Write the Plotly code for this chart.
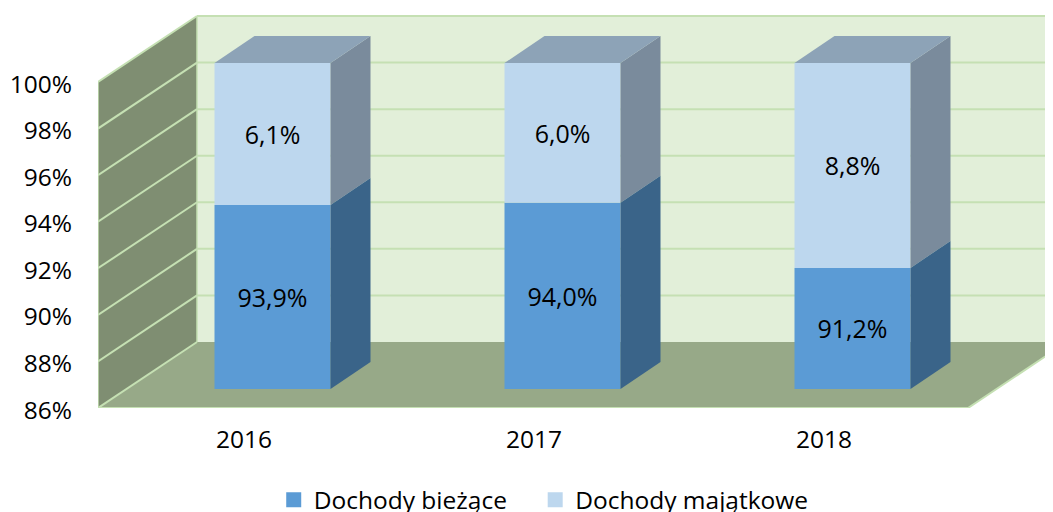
import plotly.graph_objects as go

years = ["2016", "2017", "2018"]
dochody_biezace = [93.9, 94.0, 91.2]
dochody_majatkowe = [6.1, 6.0, 8.8]
y_ticks = [86, 88, 90, 92, 94, 96, 98, 100]
y_labels = ["86%", "88%", "90%", "92%", "94%", "96%", "98%", "100%"]

FONT = "Open Sans"
FS_AXIS, FS_LABEL, FS_LEGEND = 24.5, 25, 24.5
PX_X, PX_Y = 290.0, 326 / 14.0     # pixels per axis unit
W, H = 1045, 504                   # page adds an 8 px body margin
L, B = 90, 104
AX0, AY0 = -0.5, 86.0
XR = [AX0, AX0 + (W - L) / PX_X]
YR = [AY0, AY0 + (H - B) / PX_Y]
WDX, WDY = 99 / PX_X, 66 / PX_Y    # depth of the room
SX, SY = 29.5 / PX_X, 19 / PX_Y    # bars' plane offset
BW = 116 / PX_X
BDX, BDY = 40 / PX_X, 27 / PX_Y    # bars' depth
XEND = len(years) - 0.5

C_WALL, C_BACK, C_FLOOR, C_GRID = "#7F8E72", "#E2EFD9", "#97A988", "#C5E0B3"
C_BLUE, C_BLUE_S = "#5B9BD5", "#3A6489"
C_LIGHT, C_LIGHT_S, C_LIGHT_T = "#BDD7EE", "#7A8B9C", "#8DA3B7"

fig = go.Figure()

def poly(xs, ys, color, xa="x", ya="y"):
    fig.add_trace(go.Scatter(x=xs, y=ys, mode="lines", fill="toself", fillcolor=color,
                             line=dict(width=0, color=color), xaxis=xa, yaxis=ya,
                             hoverinfo="skip", showlegend=False))

def line(xs, ys, color=C_GRID, w=2):
    fig.add_trace(go.Scatter(x=xs, y=ys, mode="lines", line=dict(color=color, width=w),
                             hoverinfo="skip", showlegend=False))

xl, xb, ymin, ymax = AX0, AX0 + WDX, y_ticks[0], y_ticks[-1]
# room
poly([xb, XEND + WDX, XEND + WDX, xb], [ymin + WDY, ymin + WDY, ymax + WDY, ymax + WDY], C_BACK)
poly([xl, xb, xb, xl], [ymin, ymin + WDY, ymax + WDY, ymax], C_WALL)
poly([xl, XEND, XEND + WDX, xb], [ymin, ymin, ymin + WDY, ymin + WDY], C_FLOOR)
for t in y_ticks:
    if t > ymin:
        line([xb, XEND + WDX], [t + WDY, t + WDY])
    line([xl, xb], [t, t + WDY])
line([xl, xl], [ymin, ymax], w=1.5)
line([xb, xb], [ymin + WDY, ymax + WDY], w=1.5)
line([xl, XEND, XEND + WDX], [ymin, ymin, ymin + WDY])

# bars (front plane = overlaid axes, shifted into the room)
pos = list(range(len(years)))
fmt = lambda v: f"{v:.1f}%".replace(".", ",")
for i in pos:
    xr = i + BW / 2
    xf = i - BW / 2
    v1 = dochody_biezace[i]
    top = v1 + dochody_majatkowe[i]
    poly([xr, xr + BDX, xr + BDX, xr], [v1, v1 + BDY, top + BDY, top], C_LIGHT_S, "x2", "y2")
    poly([xr, xr + BDX, xr + BDX, xr], [ymin, ymin + BDY, v1 + BDY, v1], C_BLUE_S, "x2", "y2")
    poly([xf, xr, xr + BDX, xf + BDX], [top, top, top + BDY, top + BDY], C_LIGHT_T, "x2", "y2")

tf = dict(family=FONT, size=FS_LABEL, color="#000000")
fig.add_trace(go.Bar(x=pos, y=[v - ymin for v in dochody_biezace], base=[ymin] * len(pos),
                     width=BW, name="Dochody bieżące", marker=dict(color=C_BLUE, line=dict(width=0)),
                     text=[fmt(v) for v in dochody_biezace], textposition="inside",
                     insidetextanchor="middle", textangle=0, insidetextfont=tf,
                     xaxis="x2", yaxis="y2", hoverinfo="skip", showlegend=False))
fig.add_trace(go.Bar(x=pos, y=dochody_majatkowe, base=dochody_biezace,
                     width=BW, name="Dochody majątkowe", marker=dict(color=C_LIGHT, line=dict(width=0)),
                     text=[fmt(v) for v in dochody_majatkowe], textposition="inside",
                     insidetextanchor="middle", textangle=0, insidetextfont=tf,
                     xaxis="x2", yaxis="y2", hoverinfo="skip", showlegend=False))
for nm, c, lg in [("Dochody bieżące", C_BLUE, "legend"), ("Dochody majątkowe", C_LIGHT, "legend2")]:
    fig.add_trace(go.Scatter(x=[None], y=[None], mode="markers", name=nm, legend=lg,
                             marker=dict(symbol="square", size=15, color=c)))

lg_font = dict(family=FONT, size=FS_LEGEND, color="#000000")
fig.update_layout(
    width=W, height=H, margin=dict(l=L, r=0, t=0, b=B, autoexpand=False),
    paper_bgcolor="white", plot_bgcolor="white", barmode="overlay",
    font=dict(family=FONT, size=FS_AXIS, color="#000000"),
    xaxis=dict(range=XR, tickvals=pos, ticktext=years, showgrid=False, zeroline=False,
               showline=False, ticks="outside", ticklen=10, tickcolor="rgba(0,0,0,0)",
               ticklabelshift=1),
    yaxis=dict(range=YR, tickvals=y_ticks, ticktext=y_labels, showgrid=False, zeroline=False,
               showline=False, ticks="outside", ticklen=20, tickcolor="rgba(0,0,0,0)",
               ticklabelshift=2),
    xaxis2=dict(range=[XR[0] - SX, XR[1] - SX], overlaying="x", visible=False, anchor="y2"),
    yaxis2=dict(range=[YR[0] - SY, YR[1] - SY], overlaying="y", visible=False, anchor="x2"),
    legend=dict(orientation="h", x=0.184, xanchor="left", y=-0.173, yanchor="top",
                font=lg_font, bgcolor="rgba(0,0,0,0)"),
    legend2=dict(orientation="h", x=0.4578, xanchor="left", y=-0.173, yanchor="top",
                 font=lg_font, bgcolor="rgba(0,0,0,0)"),
    showlegend=True,
)
fig.write_html("out.html", config=dict(displayModeBar=False))
